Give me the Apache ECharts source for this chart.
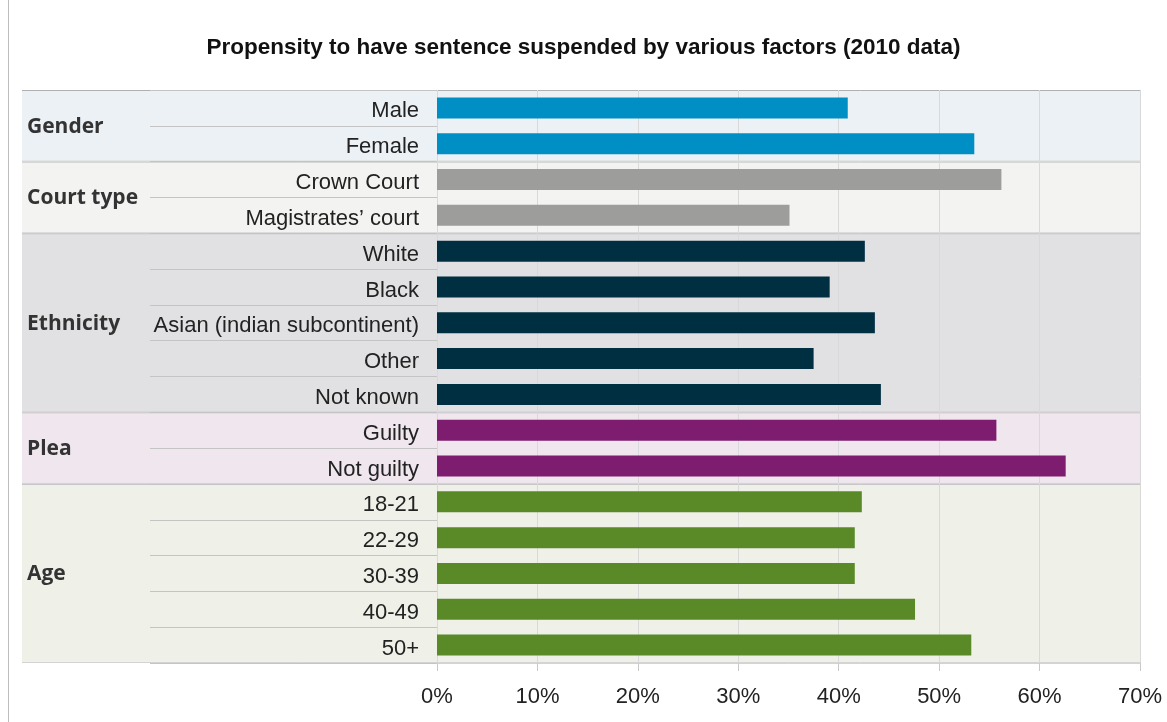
<!DOCTYPE html>
<html>
<head>
<meta charset="utf-8">
<script src="https://cdn.jsdelivr.net/npm/echarts@6/dist/echarts.min.js"></script>
<style>
  html, body { margin: 0; padding: 0; background: #fff; }
  #chart { width: 1167px; height: 722px; }
</style>
</head>
<body>
<div id="chart"></div>
<script>
(function() {
    const categories = ['Male', 'Female', 'Crown Court', 'Magistrates’ court', 'White', 'Black',
      'Asian (indian subcontinent)', 'Other', 'Not known', 'Guilty', 'Not guilty',
      '18-21', '22-29', '30-39', '40-49', '50+'];
    const values = [40.9, 53.5, 56.2, 35.1, 42.6, 39.1, 43.6, 37.5, 44.2, 55.7, 62.6, 42.3, 41.6, 41.6, 47.6, 53.2];
    const groups = ['Gender', 'Court type', 'Ethnicity', 'Plea', 'Age'];
    const groupSizes = [2, 2, 5, 2, 5];
    const xTicks = [0, 10, 20, 30, 40, 50, 60, 70];

    const barColors = ['#008fc5', '#9d9d9b', '#012f42', '#7e1c6f', '#5a8a28'];
    const bandColors = ['#ecf1f6', '#f3f3f2', '#e1e1e3', '#efe6ee', '#eff0e8'];

    // row -> group index, and group row ranges
    const rowGroup = [];
    const groupRanges = [];
    let start = 0;
    groupSizes.forEach((n, g) => {
      groupRanges.push([start, start + n, g]);
      for (let k = 0; k < n; k++) rowGroup.push(g);
      start += n;
    });

    const chart = echarts.init(document.getElementById('chart'));

    const option = {
      animation: false,
      title: {
        text: 'Propensity to have sentence suspended by various factors (2010 data)',
        left: 'center',
        top: 31,
        textStyle: {
          fontFamily: '"Liberation Sans", Arial, sans-serif',
          fontSize: 22.5,
          fontWeight: 'bold',
          color: '#111'
        }
      },
      graphic: [{
        type: 'line',
        shape: { x1: 8.5, y1: 0, x2: 8.5, y2: 722 },
        style: { stroke: '#bdbdbd', lineWidth: 1 },
        silent: true
      }],
      grid: [
        { left: 437, right: 27, top: 90, bottom: 59 },
        { left: 22, right: 27, top: 90, bottom: 59 },
        { left: 150, right: 730, top: 90, bottom: 59 }
      ],
      xAxis: [
        {
          gridIndex: 0,
          type: 'value',
          min: 0,
          max: 70,
          interval: 10,
          axisLine: { show: true, lineStyle: { color: '#d4d4d4' } },
          axisTick: { show: true, length: 8, lineStyle: { color: '#c8c8c8' } },
          axisLabel: {
            margin: 23,
            fontSize: 22,
            fontFamily: '"Liberation Sans", Arial, sans-serif',
            color: '#222',
            formatter: v => xTicks.includes(v) ? v + '%' : ''
          },
          splitLine: { show: true, lineStyle: { color: '#d9d9d9' } }
        },
        { gridIndex: 1, type: 'value', min: 0, max: 1, show: false },
        { gridIndex: 2, type: 'value', min: 0, max: 1, show: false }
      ],
      yAxis: [
        {
          gridIndex: 0,
          type: 'category',
          inverse: true,
          data: categories,
          axisLine: { show: false },
          axisTick: { show: false },
          axisLabel: {
            margin: 18,
            formatter: v => '{a|' + v + '}',
            rich: {
              a: {
                fontSize: 22,
                padding: [7, 0, 0, 0],
                fontFamily: '"Liberation Sans", Arial, sans-serif',
                color: '#222'
              }
            }
          }
        },
        { gridIndex: 1, type: 'value', min: 0, max: categories.length, inverse: true, show: false },
        {
          gridIndex: 2,
          type: 'category',
          inverse: true,
          data: categories,
          axisLine: { show: false },
          axisTick: { show: false },
          axisLabel: { show: false },
          splitLine: { show: true, lineStyle: { color: '#c4c4c4' } }
        }
      ],
      series: [
        {
          type: 'custom',
          xAxisIndex: 1,
          yAxisIndex: 1,
          z: -1,
          silent: true,
          data: groupRanges,
          renderItem: function(params, api) {
            const g = api.value(2);
            const p0 = api.coord([0, api.value(0)]);
            const p1 = api.coord([1, api.value(1)]);
            return {
              type: 'group',
              children: [
                {
                  type: 'rect',
                  shape: { x: p0[0], y: p0[1], width: p1[0] - p0[0], height: p1[1] - p0[1] },
                  style: { fill: bandColors[g] }
                },
                {
                  type: 'line',
                  shape: { x1: p0[0], y1: p0[1] + 0.5, x2: p1[0], y2: p0[1] + 0.5 },
                  style: { stroke: g === 0 ? '#b0b0b0' : '#c4c4c4', lineWidth: 1 }
                },
                {
                  type: 'line',
                  shape: { x1: p0[0], y1: p1[1] - 0.5, x2: p1[0], y2: p1[1] - 0.5 },
                  style: { stroke: '#d4d4d4', lineWidth: 1 }
                },
                {
                  type: 'text',
                  x: p0[0] + 5,
                  y: (p0[1] + p1[1]) / 2 + 1,
                  style: {
                    text: groups[g],
                    font: 'bold 21px "Open Sans", "Noto Sans", sans-serif',
                    fill: '#333',
                    verticalAlign: 'middle'
                  }
                }
              ]
            };
          }
        },
        {
          type: 'bar',
          xAxisIndex: 0,
          yAxisIndex: 0,
          data: values,
          barWidth: 21,
          itemStyle: {
            color: p => barColors[rowGroup[p.dataIndex]]
          }
        },
        {
          type: 'bar',
          xAxisIndex: 2,
          yAxisIndex: 2,
          data: [],
          silent: true
        }
      ]
    };

    chart.setOption(option);
    window.addEventListener('resize', () => chart.resize());
})();
</script>
</body>
</html>
